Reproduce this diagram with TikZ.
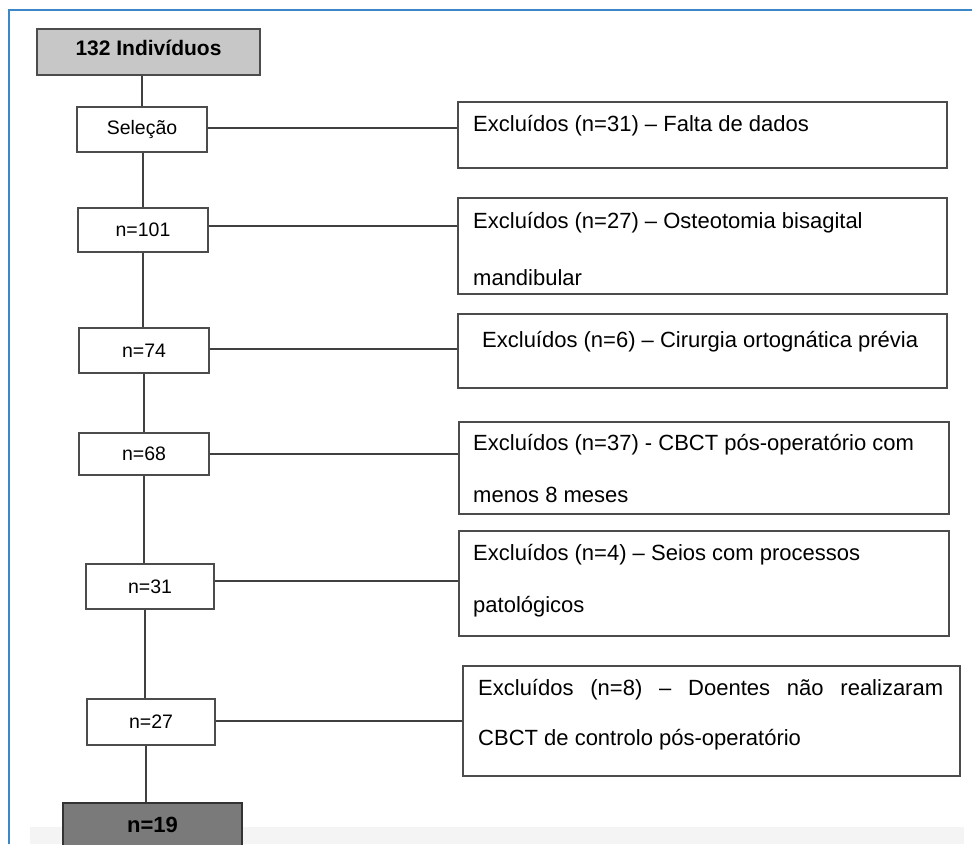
\documentclass[tikz,border=0pt]{standalone}
\usepackage{fontspec}
\setmainfont{Liberation Sans}
\definecolor{frameblue}{HTML}{3C87C8}
\definecolor{bandgray}{HTML}{F4F4F4}
\tikzstyle{sbox}=[shape=rectangle, draw=black!70, line width=1.6pt,
                  fill=white, inner sep=0pt, font=\fontsize{19.5}{23}\selectfont]
\tikzstyle{ebox}=[shape=rectangle, draw=black!70, line width=1.6pt,
                  fill=white, inner sep=0pt]
\tikzstyle{etxt}=[anchor=base west, inner sep=0pt,
                  font=\fontsize{22}{26}\selectfont]
\tikzstyle{link}=[draw=black!75, line width=1.8pt]

\begin{document}
\begin{tikzpicture}[x=1pt, y=-1pt]

\useasboundingbox (0,0) rectangle (972,844);
\clip (0,0) rectangle (972,844);

% frame
\fill[bandgray] (30,827) rectangle (964,844);
\draw[frameblue, line width=2pt] (9,844) -- (9,10) -- (972,10);

% nodes
\node[sbox, fill=black!22, minimum width=223pt, minimum height=46pt, text depth=8pt,
      font=\fontsize{21}{25}\selectfont\bfseries] (top) at (148.5,52) {132 Indivíduos};
\node[sbox, minimum width=130pt, minimum height=45pt] (sel) at (142,129.5) {Seleção};
\node[sbox, minimum width=130pt, minimum height=44pt] (n101) at (143,230) {n=101};
\node[sbox, minimum width=130pt, minimum height=45pt] (n74) at (144,350.5) {n=74};
\node[sbox, minimum width=130pt, minimum height=42pt] (n68) at (144,454) {n=68};
\node[sbox, minimum width=128pt, minimum height=45pt] (n31) at (150,586.5) {n=31};
\node[sbox, minimum width=128pt, minimum height=46pt] (n27) at (151,722) {n=27};
\node[sbox, fill=black!52, draw=black!80, minimum width=179pt, minimum height=44pt,
      font=\fontsize{22}{26}\selectfont\bfseries] (n19) at (152.5,825) {n=19};

\node[ebox, minimum width=489pt, minimum height=66pt] (ex1) at (702.5,135) {};
\node[ebox, minimum width=489pt, minimum height=96pt] (ex2) at (702.5,246) {};
\node[ebox, minimum width=489pt, minimum height=74pt] (ex3) at (702.5,351) {};
\node[ebox, minimum width=490pt, minimum height=92pt] (ex4) at (704,468) {};
\node[ebox, minimum width=490pt, minimum height=105pt] (ex5) at (704,583.5) {};
\node[ebox, minimum width=497pt, minimum height=110pt] (ex6) at (711.5,721) {};

% texts
\node[etxt] (ex1a) at (473,131) {Excluídos (n=31) – Falta de dados};
\node[etxt] (ex2a) at (473,228) {Excluídos (n=27) – Osteotomia bisagital};
\node[etxt] (ex2b) at (473,285) {mandibular};
\node[etxt] (ex3a) at (482,347) {Excluídos (n=6) – Cirurgia ortognática prévia};
\node[etxt] (ex4a) at (473,450) {Excluídos (n=37) - CBCT pós-operatório com};
\node[etxt] (ex4b) at (473,502) {menos 8 meses};
\node[etxt] (ex5a) at (473,560) {Excluídos (n=4) – Seios com processos};
\node[etxt] (ex5b) at (473,612) {patológicos};
\node[etxt] (ex6a) at (478,695) {\makebox[465pt][s]{Excluídos (n=8) – Doentes não realizaram}};
\node[etxt] (ex6b) at (478,745) {CBCT de controlo pós-operatório};

% paths
\path[link] (sel.north) edge (sel.north |- top.south);
\path[link] (n101.north) edge (n101.north |- sel.south);
\path[link] (n101.south) edge (n101.south |- n74.north);
\path[link] (n74.south) edge (n74.south |- n68.north);
\path[link] (n68.south) edge (n68.south |- n31.north);
\path[link] ([xshift=-5pt]n31.south) edge ([xshift=-5pt]n31.south |- n27.north);
\path[link] ([xshift=-5pt]n27.south) edge ([xshift=-5pt]n27.south |- n19.north);

\path[link] ([yshift=1.5pt]sel.east) edge ([yshift=1.5pt]sel.east -| ex1.west);
\path[link] ([yshift=4pt]n101.east) edge ([yshift=4pt]n101.east -| ex2.west);
\path[link] ([yshift=1.5pt]n74.east) edge ([yshift=1.5pt]n74.east -| ex3.west);
\path[link] (n68.east) edge (n68.east -| ex4.west);
\path[link] ([yshift=5.5pt]n31.east) edge ([yshift=5.5pt]n31.east -| ex5.west);
\path[link] ([yshift=1pt]n27.east) edge ([yshift=1pt]n27.east -| ex6.west);

\end{tikzpicture}
\end{document}
